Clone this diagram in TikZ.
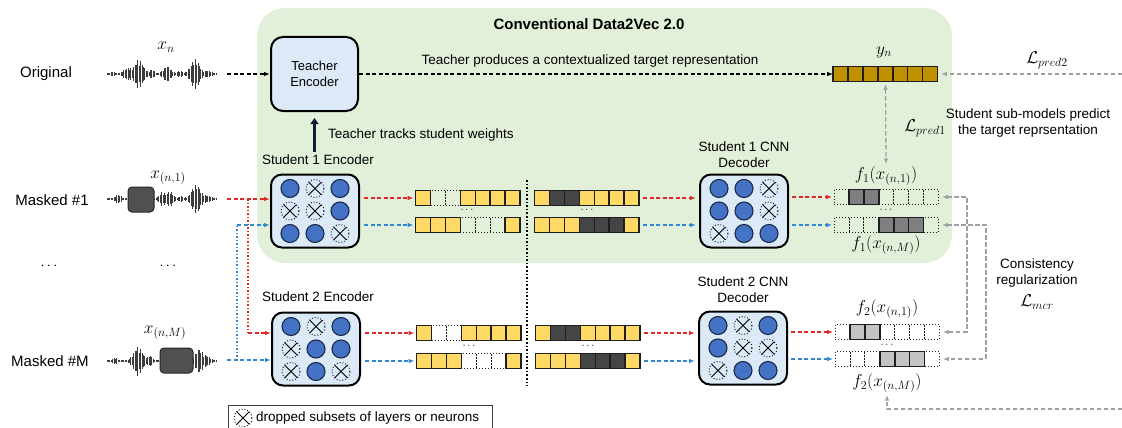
\documentclass[tikz,border=0pt]{standalone}
\usepackage{fontspec}
\setmainfont{Liberation Sans}
\usetikzlibrary{arrows.meta,calc}

\definecolor{panelgreen}{HTML}{E2F0D9}
\definecolor{boxblue}{HTML}{DCE9F6}
\definecolor{circfill}{HTML}{4472C4}
\definecolor{circedge}{HTML}{1C2B4A}
\definecolor{cellyellow}{HTML}{FFD966}
\definecolor{cellgold}{HTML}{BF9000}
\definecolor{celldark}{HTML}{454545}
\definecolor{cellmid}{HTML}{7F7F7F}
\definecolor{celllight}{HTML}{C4C4C4}
\definecolor{celledge}{HTML}{1E1E1E}
\definecolor{redline}{HTML}{E02828}
\definecolor{blueline}{HTML}{2E88D6}
\definecolor{grayline}{HTML}{A0A0A0}
\definecolor{navy}{HTML}{0C1C3A}
\definecolor{wavegray}{HTML}{3C3C3C}
\definecolor{maskgray}{HTML}{505050}

% 3x3 grid of neurons inside a rounded box: name, x, y, nine neuron styles
\newcommand\nngrid[4]{%
  \node[nnbox] (#1) at (#2,#3) {};
  \foreach \s [count=\k from 0] in {#4} {
    \pgfmathtruncatemacro\gr{int(\k/3)}
    \pgfmathtruncatemacro\gc{mod(\k,3)}
    \node[\s] (#1-\k) at ($(#1.center)+(\gc*25-25,\gr*22.5-22.5)$) {};
  }}

% row of seven cells: name, x, y, seven cell styles
\newcommand\cellbar[4]{%
  \node[inner sep=0pt, minimum width=104.3pt, minimum height=14.9pt] (#1) at (#2,#3) {};
  \foreach \s [count=\k from 0] in {#4} {
    \draw[\s] ($(#1.west)+(\k*14.9,-7.45)$) rectangle ++(14.9,14.9);
  }}

% audio waveform: centre line y, envelope in \x
\newcommand\wavef[2]{%
  \foreach \x in {107,108.4,...,217} {
    \pgfmathsetmacro\hh{(#2)*(0.5+0.5*abs(sin(\x*53)))+0.7}
    \draw[wavestroke] (\x,#1-\hh) -- (\x,#1+\hh);
  }}

\begin{document}
\begin{tikzpicture}[x=1pt,y=-1pt,
  declare function={gb(\t,\m,\w)=exp(-min(9,((\t-\m)/\w)*((\t-\m)/\w)));},
  lbl/.style={font=\fontsize{13.5}{16}\selectfont, inner sep=0pt, align=center},
  side/.style={font=\fontsize{15}{17}\selectfont, inner sep=0pt},
  mlbl/.style={font=\fontsize{17}{17}\selectfont, inner sep=0pt},
  nnbox/.style={draw=black, line width=2pt, fill=boxblue, rounded corners=11pt,
    minimum width=88pt, minimum height=73pt},
  nOn/.style={circle, draw=circedge, line width=1.1pt, fill=circfill,
    minimum size=18pt, inner sep=0pt},
  nOff/.style={circle, draw=black, dotted, line width=0.9pt, minimum size=18pt,
    inner sep=0pt, path picture={\draw[solid, line width=0.8pt]
      (path picture bounding box.north west) -- (path picture bounding box.south east)
      (path picture bounding box.north east) -- (path picture bounding box.south west);}},
  cY/.style={fill=cellyellow, draw=celledge, line width=1.5pt},
  cT/.style={fill=cellgold, draw=celledge, line width=1.5pt},
  cK/.style={fill=celldark, draw=celledge, line width=1.5pt},
  cG/.style={fill=cellmid, draw=celledge, line width=1.5pt},
  cL/.style={fill=celllight, draw=celledge, line width=1.5pt},
  cD/.style={draw=celledge, dotted, line width=1pt},
  tipA/.tip={Latex[length=6pt,width=4.5pt]},
  redarr/.style={draw=redline, line width=1.3pt, dash pattern=on 4pt off 2.5pt, -tipA},
  bluearr/.style={draw=blueline, line width=1.3pt, dash pattern=on 4pt off 2.5pt, -tipA},
  reddot/.style={draw=redline, line width=1.5pt, dotted},
  bluedot/.style={draw=blueline, line width=1.5pt, dotted},
  blackarr/.style={draw=black, line width=1.2pt, dash pattern=on 4pt off 2.5pt, -tipA},
  grayarr/.style={draw=grayline, line width=1.3pt, dash pattern=on 4.5pt off 2.5pt, -tipA},
  wavestroke/.style={draw=wavegray, line width=0.8pt},
  maskbox/.style={fill=maskgray, draw=black!85, line width=1pt, rounded corners=4pt, inner sep=0pt},
]
\useasboundingbox (0,0) rectangle (1122,428);

% green panel of the conventional model
\fill[panelgreen, rounded corners=28pt] (257,8) rectangle (952,263);
\node[font=\bfseries\fontsize{15}{17}\selectfont, inner sep=0pt] (title) at (589,24) {Conventional Data2Vec 2.0};

% row labels
\node[side] (lorig) at (46,74) {Original};
\node[side] (lm1) at (52,200) {Masked \#1};
\node[side] (lmM) at (50,361) {Masked \#M};
\node[lbl] (dl1) at (49,266) {$\cdots$};
\node[lbl] (dl2) at (168,266) {$\cdots$};

% waveforms
\wavef{74}{1.5*gb(\x,113,3)+5*gb(\x,127,5)+14*gb(\x,139,6)+4*gb(\x,152,3)+7*gb(\x,167,5)+3*gb(\x,180,3)+14*gb(\x,195,6)+3*gb(\x,208,4)}
\wavef{199}{4*gb(\x,118,4)+6*gb(\x,162,4)+7*gb(\x,170,4)+2*gb(\x,181,3)+14*gb(\x,196,6)+3*gb(\x,208,4)}
\wavef{361}{3*gb(\x,115,3)+14*gb(\x,138,6)+5*gb(\x,150,3)+12*gb(\x,199,5)+4*gb(\x,208,4)}
\node[maskbox, minimum width=26pt, minimum height=25pt] (mask1) at (141,199.5) {};
\node[maskbox, minimum width=33pt, minimum height=25pt] (maskM) at (176.5,360.5) {};
\node[mlbl] (xn) at (166,47) {$x_n$};
\node[mlbl] (xn1) at (168,178) {$x_{(n,1)}$};
\node[mlbl] (xnM) at (165,333) {$x_{(n,M)}$};
\coordinate (wo) at (227,74);
\coordinate (w1) at (227,199);
\coordinate (wM) at (227,360);

% teacher
\node[nnbox, minimum width=87pt, minimum height=74pt, rounded corners=12pt,
  font=\fontsize{13}{15.5}\selectfont, align=center] (teacher) at (314.5,74) {Teacher\\Encoder};
\draw[blackarr] (wo) -- (teacher.west);

% students
\node[lbl] (s1lab) at (318,160) {Student 1 Encoder};
\node[lbl] (d1lab) at (744,155) {Student 1 CNN\\Decoder};
\node[lbl] (s2lab) at (318,297) {Student 2 Encoder};
\node[lbl] (d2lab) at (743,290) {Student 2 CNN\\Decoder};
\nngrid{enc1}{315}{211}{nOn,nOff,nOn,nOff,nOff,nOn,nOn,nOn,nOff}
\nngrid{dec1}{744}{211}{nOn,nOn,nOff,nOn,nOn,nOff,nOff,nOn,nOn}
\nngrid{enc2}{316}{349}{nOn,nOff,nOn,nOff,nOn,nOn,nOff,nOn,nOff}
\nngrid{dec2}{743}{348}{nOn,nOff,nOn,nOn,nOff,nOff,nOff,nOn,nOn}

\draw[navy, line width=3pt, -{Triangle[length=6pt,width=8pt]}, shorten <=3pt, shorten >=6pt]
  (s1lab.north -| teacher.south) -- (teacher.south);
\node[lbl, anchor=west] (track) at (328,135) {Teacher tracks student weights};

% cell rows
\cellbar{ya}{885.5}{74}{cT,cT,cT,cT,cT,cT,cT}
\cellbar{a1}{468}{198}{cY,cD,cD,cY,cY,cY,cY}
\cellbar{a2}{468}{225}{cY,cY,cY,cD,cD,cD,cY}
\cellbar{b1}{587}{198}{cY,cK,cK,cY,cY,cY,cY}
\cellbar{b2}{587}{225}{cY,cY,cY,cK,cK,cK,cY}
\cellbar{f1a}{886.5}{197}{cD,cG,cG,cD,cD,cD,cD}
\cellbar{f1b}{886.5}{225}{cD,cD,cD,cG,cG,cG,cD}
\cellbar{a3}{469}{333}{cY,cD,cD,cY,cY,cY,cY}
\cellbar{a4}{469}{361}{cY,cY,cY,cD,cD,cD,cY}
\cellbar{b3}{588}{333}{cY,cK,cK,cY,cY,cY,cY}
\cellbar{b4}{588}{361}{cY,cY,cY,cK,cK,cK,cY}
\cellbar{f2a}{887.5}{332}{cD,cL,cL,cD,cD,cD,cD}
\cellbar{f2b}{887.5}{359}{cD,cD,cD,cL,cL,cL,cD}

\foreach \p in {(467,210),(587,210),(886,210),(469,346),(588,346),(887,345)}
  \node[lbl, font=\fontsize{11}{11}\selectfont] at \p {$\cdots$};

% separator between encoder output and masked decoder input
\coordinate (sepT) at (527,180);
\coordinate (sepB) at (527,386);
\draw[black, line width=1.6pt, dotted] (sepT) -- (sepB);

% teacher target
\draw[blackarr] (teacher.east) -- (ya.west);
\node[lbl] (prod) at (590,61) {Teacher produces a contextualized target representation};
\node[mlbl] (yn) at (884,52) {$y_n$};

% output labels
\node[mlbl] (f11) at (886,176) {$f_1(x_{(n,1)})$};
\node[mlbl] (f1M) at (886,245) {$f_1(x_{(n,M)})$};
\node[mlbl] (f21) at (887,309) {$f_2(x_{(n,1)})$};
\node[mlbl] (f2M) at (887,383) {$f_2(x_{(n,M)})$};

% input routing
\coordinate (rsplit) at (248,199);
\coordinate (bsplit) at (237,360);
\draw[redarr] (w1) -- (enc1.west |- w1);
\draw[bluearr] (wM) -- (enc2.west |- wM);
\draw[reddot] (rsplit) -- (rsplit |- a3);
\draw[redarr] (rsplit |- a3) -- (enc2.west |- a3);
\draw[bluedot] (bsplit) -- (bsplit |- a2);
\draw[bluearr] (bsplit |- a2) -- (enc1.west |- a2);

% student 1 flow
\draw[redarr, shorten <=4pt, shorten >=2pt] (enc1.east |- a1) -- (a1.west);
\draw[bluearr, shorten <=4pt, shorten >=2pt] (enc1.east |- a2) -- (a2.west);
\draw[redarr, shorten <=4pt, shorten >=3pt] (b1.east) -- (dec1.west |- b1);
\draw[bluearr, shorten <=4pt, shorten >=3pt] (b2.east) -- (dec1.west |- b2);
\draw[redarr, shorten <=3pt, shorten >=2pt] (dec1.east |- f1a) -- (f1a.west);
\draw[bluearr, shorten <=3pt, shorten >=2pt] (dec1.east |- f1b) -- (f1b.west);

% student 2 flow
\draw[redarr, shorten <=4pt, shorten >=2pt] (enc2.east |- a3) -- (a3.west);
\draw[bluearr, shorten <=4pt, shorten >=2pt] (enc2.east |- a4) -- (a4.west);
\draw[redarr, shorten <=4pt, shorten >=3pt] (b3.east) -- (dec2.west |- b3);
\draw[bluearr, shorten <=4pt, shorten >=3pt] (b4.east) -- (dec2.west |- b4);
\draw[redarr, shorten <=3pt, shorten >=2pt] (dec2.east |- f2a) -- (f2a.west);
\draw[bluearr, shorten <=3pt, shorten >=2pt] (dec2.east |- f2b) -- (f2b.west);

% losses
\coordinate (edgeT) at (1122,74);
\coordinate (edgeB) at (1122,409);
\draw[grayarr, shorten >=3pt] (edgeT) -- (ya.east);
\node[mlbl] (lp2) at (1047,60) {$\mathcal{L}_{pred2}$};
\draw[grayarr, tipA-tipA, shorten <=2pt, shorten >=2pt] (ya.south) -- (f11.north);
\node[mlbl] (lp1) at (925,128) {$\mathcal{L}_{pred1}$};
\node[lbl] (subm) at (1028,123) {Student sub-models predict\\the target reprsentation};
\draw[grayarr, tipA-tipA, shorten <=3pt, shorten >=3pt] (f1a.east) -- ++(28,0) |- (f2a.east);
\draw[grayarr, tipA-tipA, shorten <=3pt, shorten >=3pt] (f1b.east) -- ++(47,0) |- (f2b.east);
\node[lbl] (cons) at (1037,273) {Consistency\\regularization};
\node[mlbl] (lmcr) at (1037,302) {$\mathcal{L}_{mcr}$};
\draw[grayarr, shorten >=2pt] (edgeB) -| (f2M.south);

% legend
\node[draw=black!75, line width=0.8pt, minimum width=264pt, minimum height=30pt,
  anchor=north west, inner sep=0pt] (legend) at (228,405) {};
\node[nOff] (legX) at (243,418) {};
\node[lbl, anchor=west] (legT) at (256,418) {dropped subsets of layers or neurons};
\end{tikzpicture}
\end{document}
